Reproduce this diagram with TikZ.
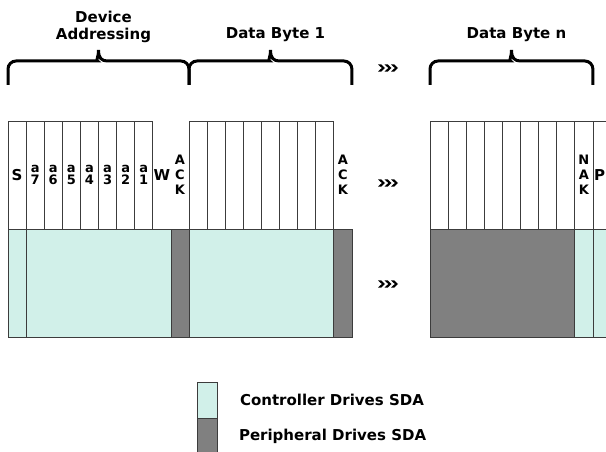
\documentclass[tikz,border=0pt]{standalone}
\usepackage{fontspec}
\setmainfont{DejaVu Sans}
\usepackage{tikz}
\usetikzlibrary{positioning}

\definecolor{ctrlcol}{RGB}{209,240,233}
\definecolor{periphcol}{RGB}{128,128,128}
\definecolor{linecol}{RGB}{60,60,60}

% brace over one group of bits: left end, tip, right end
\newcommand{\drawbrace}[3]{%
    \draw[bytebrace] (#1,85) [rounded corners=8pt] -- (#1,61) -- ({#2-9},61) [sharp corners]
        .. controls ({#2-3},61) and (#2,58) .. (#2,50)
        .. controls (#2,58) and ({#2+3},61) .. ({#2+9},61) [rounded corners=8pt] -- (#3,61) -- (#3,85);}

% three chevrons centred on a named coordinate
\newcommand{\drawskip}[1]{%
    \foreach \k in {0,1,2}
        \fill ([xshift={-10+6.5*\k}]#1) ++(0,-3.6) -- ++(3.2,0) -- ++(3.8,3.6) -- ++(-3.8,3.6) -- ++(-3.2,0) -- ++(3.8,-3.6) -- cycle;}

\begin{document}
\begin{tikzpicture}[x=1pt, y=-1pt, node distance=0pt, font=\bfseries]
    % Define styles
    \tikzstyle{bitcell} = [rectangle, draw=linecol, line width=0.8pt, inner sep=0pt, outer sep=0pt, minimum width=18.1pt, minimum height=108pt, align=center]
    \tikzstyle{ctrlbox} = [bitcell, fill=ctrlcol]
    \tikzstyle{periphbox} = [bitcell, fill=periphcol]
    \tikzstyle{bitlabel} = [inner sep=0pt, outer sep=0pt, minimum width=18.1pt, minimum height=108pt, align=center]
    \tikzstyle{bigletter} = [font=\fontsize{15}{17}\selectfont\bfseries]
    \tikzstyle{addrbit} = [font=\fontsize{13}{12.5}\selectfont\bfseries]
    \tikzstyle{ackletters} = [font=\fontsize{13}{15}\selectfont\bfseries]
    \tikzstyle{bytetitle} = [font=\fontsize{15}{16.5}\selectfont\bfseries, align=center]
    \tikzstyle{legtext} = [font=\fontsize{15}{16}\selectfont\bfseries, anchor=west]
    \tikzstyle{bytebrace} = [line width=3pt]

    \useasboundingbox (0,0) rectangle (606,452);

    % Device addressing bits
    \node[bitcell, bigletter, anchor=north west] (s) at (8,121) {S};
    \foreach \i/\prev in {7/s,6/a7,5/a6,4/a5,3/a4,2/a3,1/a2}
        \node[bitcell, addrbit, right=of \prev] (a\i) {a\\\i};
    \node[bitlabel, bigletter, right=of a1] (w) {W};
    \node[bitlabel, ackletters, right=of w] (ack0) {A\\C\\K};

    % Data byte 1 bits
    \node[bitcell, anchor=north west] (b1) at (ack0.north east) {};
    \foreach \i [remember=\i as \prev (initially 1)] in {2,...,8}
        \node[bitcell, right=of b\prev] (b\i) {};
    \node[bitlabel, ackletters, right=of b8] (ack1) {A\\C\\K};

    % Data byte n bits
    \node[bitcell, anchor=north west] (n1) at (430,121) {};
    \foreach \i [remember=\i as \prev (initially 1)] in {2,...,8}
        \node[bitcell, right=of n\prev] (n\i) {};
    \node[bitcell, ackletters, right=of n8] (nak) {N\\A\\K};
    \node[bitcell, right=of nak] (p) {};
    \node[bigletter, anchor=west, inner sep=0pt] (plbl) at ([xshift=1pt]nak.east) {P};

    % Who drives SDA
    \node[ctrlbox, anchor=north west] (sdrv) at (s.south west) {};
    \node[ctrlbox, anchor=north west, minimum width=144.8pt] (adrv) at (a7.south west) {};
    \node[periphbox, anchor=north west] (ackdrv0) at (ack0.south west) {};
    \node[ctrlbox, anchor=north west, minimum width=144.8pt] (b1drv) at (b1.south west) {};
    \node[periphbox, anchor=north west] (ackdrv1) at (ack1.south west) {};
    \node[periphbox, anchor=north west, minimum width=144.8pt] (ndrv) at (n1.south west) {};
    \node[ctrlbox, anchor=north west] (nakdrv) at (nak.south west) {};
    \node[ctrlbox, anchor=north west] (pdrv) at (p.south west) {};

    % Braces and titles
    \drawbrace{8}{98.5}{189}
    \drawbrace{189}{270.5}{351.9}
    \drawbrace{430}{511.5}{592.9}
    \node[bytetitle] (devtitle) at (103.5,27) {Device\\Addressing};
    \node[bytetitle] (b1title) at (275.5,35) {Data Byte 1};
    \node[bytetitle] (bntitle) at (516.5,35) {Data Byte n};

    % Skipped bytes
    \coordinate (skip1) at (388,68);
    \coordinate (skip2) at (388,183);
    \coordinate (skip3) at (388,284);
    \drawskip{skip1}
    \drawskip{skip2}
    \drawskip{skip3}

    % Legend
    \node[ctrlbox, minimum width=20pt, minimum height=36pt, anchor=north west] (legctrl) at (197.5,382) {};
    \node[periphbox, minimum width=20pt, minimum height=36pt, below=of legctrl] (legperiph) {};
    \node[legtext, right=19pt of legctrl] (ctrltext) {Controller Drives SDA};
    \node[legtext, right=18pt of legperiph] (periphtext) {Peripheral Drives SDA};
\end{tikzpicture}
\end{document}
